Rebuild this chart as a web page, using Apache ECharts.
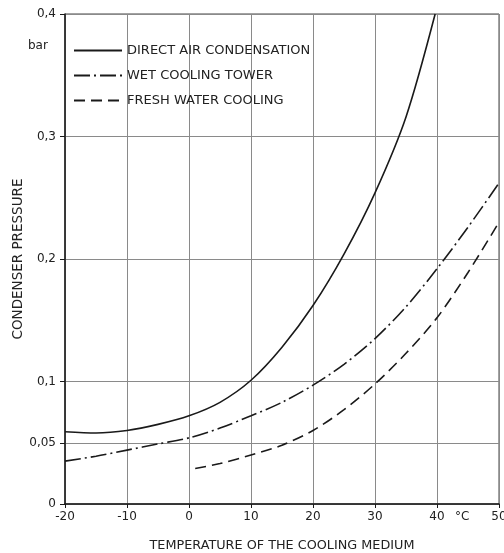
<!DOCTYPE html>
<html>
<head>
<meta charset="utf-8">
<script src="https://cdn.jsdelivr.net/npm/echarts@6/dist/echarts.min.js"></script>
<style>
  html, body { margin: 0; padding: 0; background: #fff; }
  #chart { width: 504px; height: 553px; }
</style>
</head>
<body>
<div id="chart"></div>
<script>
// temperatures (°C) and pressures (bar)
const airTemp   = [-20, -15, -10, -5, 0, 5, 10, 15, 20, 25, 30, 35, 39.7];
const airP      = [0.059, 0.058, 0.060, 0.065, 0.072, 0.083, 0.101, 0.128, 0.162, 0.204, 0.254, 0.316, 0.4];
const towerTemp = [-20, -15, -10, -5, 0, 5, 10, 15, 20, 25, 30, 35, 40, 45, 50];
const towerP    = [0.035, 0.039, 0.044, 0.049, 0.054, 0.062, 0.072, 0.083, 0.097, 0.114, 0.135, 0.161, 0.192, 0.226, 0.262];
const freshTemp = [1, 5, 10, 15, 20, 25, 30, 35, 40, 45, 50];
const freshP    = [0.029, 0.033, 0.040, 0.048, 0.060, 0.077, 0.098, 0.123, 0.152, 0.189, 0.230];

const seriesNames = ['DIRECT AIR CONDENSATION', 'WET COOLING TOWER', 'FRESH WATER COOLING'];
const yLabels = [0, 0.05, 0.1, 0.2, 0.3, 0.4];

const font = 'DejaVu Sans';
const ink = '#1a1a1a';

function pairs(xs, ys) {
    return xs.map((x, i) => [x, ys[i]]);
}

const chart = echarts.init(document.getElementById('chart'));

const options = {
    backgroundColor: '#fff',
    animation: false,
    grid: {
        left: 65, right: 5, top: 14, bottom: 49,
        outerBoundsMode: 'none', containLabel: false,
        show: true, borderColor: '#444', borderWidth: 1
    },
    legend: {
        orient: 'vertical',
        left: 68, top: 39,
        itemWidth: 48, itemHeight: 10, itemGap: 12,
        data: seriesNames,
        itemStyle: { opacity: 0 },
        textStyle: { fontFamily: font, fontSize: 13, color: '#222' }
    },
    xAxis: {
        type: 'value',
        min: -20, max: 50, interval: 10,
        name: 'TEMPERATURE OF THE COOLING MEDIUM',
        nameLocation: 'middle', nameGap: 35,
        nameTextStyle: { fontFamily: font, fontSize: 12.8, color: '#222' },
        axisLine: { show: true, onZero: false, lineStyle: { color: ink, width: 1.5 } },
        axisTick: { show: true, inside: false, length: 4, lineStyle: { color: ink } },
        axisLabel: { fontFamily: font, fontSize: 12, color: '#222', margin: 7 },
        splitLine: { show: true, lineStyle: { color: '#8a8a8a', width: 1 } }
    },
    yAxis: {
        type: 'value',
        min: 0, max: 0.4, interval: 0.1,
        name: 'CONDENSER PRESSURE',
        nameLocation: 'middle', nameGap: 40, nameRotate: 90,
        nameMoveOverlap: false,
        nameTextStyle: { fontFamily: font, fontSize: 13.5, color: '#222' },
        axisLine: { show: true, onZero: false, lineStyle: { color: ink, width: 1.5 } },
        axisTick: { show: true, length: 5, customValues: yLabels, lineStyle: { color: ink } },
        axisLabel: {
            fontFamily: font, fontSize: 12, color: '#222', margin: 9,
            customValues: yLabels,
            formatter: v => String(v).replace('.', ',')
        },
        splitLine: { show: true, lineStyle: { color: '#8a8a8a', width: 1 } }
    },
    graphic: [
        { type: 'text', left: 28, top: 40, style: { text: 'bar', font: '12px "DejaVu Sans"', fill: '#222' } },
        { type: 'text', left: 455, top: 511, style: { text: '°C', font: '12px "DejaVu Sans"', fill: '#222' } }
    ],
    series: [
        {
            name: seriesNames[0], type: 'line', smooth: 0.3, symbol: 'none',
            data: pairs(airTemp, airP),
            lineStyle: { color: ink, width: 1.6, type: 'solid' },
            itemStyle: { color: ink }
        },
        {
            name: seriesNames[1], type: 'line', smooth: 0.3, symbol: 'none',
            data: pairs(towerTemp, towerP),
            lineStyle: { color: ink, width: 1.6, type: [16, 4, 2, 4] },
            itemStyle: { color: ink }
        },
        {
            name: seriesNames[2], type: 'line', smooth: 0.3, symbol: 'none',
            data: pairs(freshTemp, freshP),
            lineStyle: { color: ink, width: 1.6, type: [11, 6] },
            itemStyle: { color: ink }
        }
    ]
};

chart.setOption(options);
</script>
</body>
</html>
